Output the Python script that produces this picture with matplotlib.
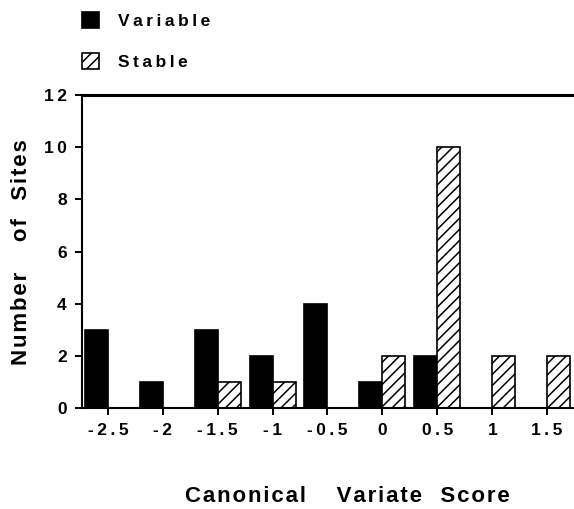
import matplotlib
matplotlib.use('Agg')
import matplotlib.pyplot as plt
import numpy as np

# canonical variate score bins and site counts
scores = ['-2.5', '-2', '-1.5', '-1', '-0.5', '0', '0.5', '1', '1.5']
variable = [3, 1, 3, 2, 4, 1, 2, 0, 0]
stable = [0, 0, 1, 1, 0, 2, 10, 2, 2]
yticks = [0, 2, 4, 6, 8, 10, 12]

plt.rcParams['font.family'] = ['Liberation Sans', 'DejaVu Sans']
plt.rcParams['font.weight'] = 'bold'
plt.rcParams['hatch.linewidth'] = 1.1


def spaced(s, gap='\u2009', words=('   ',)):
    # old typewriter-ish letter spacing, uneven word gaps
    parts = [gap.join(wd) for wd in s.split(' ')]
    out = parts[0]
    for i, p in enumerate(parts[1:]):
        out += words[min(i, len(words) - 1)] + p
    return out


W, H = 574, 509
fig = plt.figure(figsize=(W / 100, H / 100), dpi=100)
ax = fig.add_axes([82 / W, 1 - 408 / H, (573 - 82) / W, (408 - 95) / H])

x = np.arange(len(scores))
w = 0.42
b1 = ax.bar(x - w, variable, width=w, align='edge', color='black',
            edgecolor='black', linewidth=1.2, label=spaced('Variable'))
b2 = ax.bar(x, stable, width=w, align='edge', color='white',
            edgecolor='black', linewidth=1.2, hatch='///', label=spaced('Stable'))

ax.set_xlim(-0.47, len(scores) - 1 + 0.47)
ax.set_ylim(0, 12)
ax.set_xticks(x)
ax.set_xticklabels([spaced(s) for s in scores], fontsize=12.5, fontweight='bold')
ax.set_yticks(yticks)
ax.set_yticklabels([spaced(str(t)) for t in yticks], fontsize=12.5, fontweight='bold')
ax.tick_params(direction='out', length=5, width=1.4, pad=6)

for s in ['left', 'bottom']:
    ax.spines[s].set_linewidth(1.5)
ax.spines['top'].set_linewidth(2.2)
ax.spines['right'].set_visible(False)

fig.text(347 / W, 1 - 497 / H,
         spaced('Canonical Variate Score', gap='\u200a', words=('     ', '   ')),
         ha='center', va='center', fontsize=16, fontweight='bold')
fig.text(22 / W, 1 - 252 / H,
         spaced('Number of Sites', gap='\u200a', words=('     ', '   ')),
         ha='center', va='center', rotation=90, fontsize=16, fontweight='bold')

fig.legend(handles=[b1, b2], loc='upper left',
           bbox_to_anchor=(82 / W, 1 - 12 / H), frameon=False,
           borderpad=0, borderaxespad=0, handlelength=1.0, handleheight=1.0,
           handletextpad=1.1, labelspacing=1.4,
           prop={'size': 12.5, 'weight': 'bold'})

fig.savefig('out.png', dpi=100)
